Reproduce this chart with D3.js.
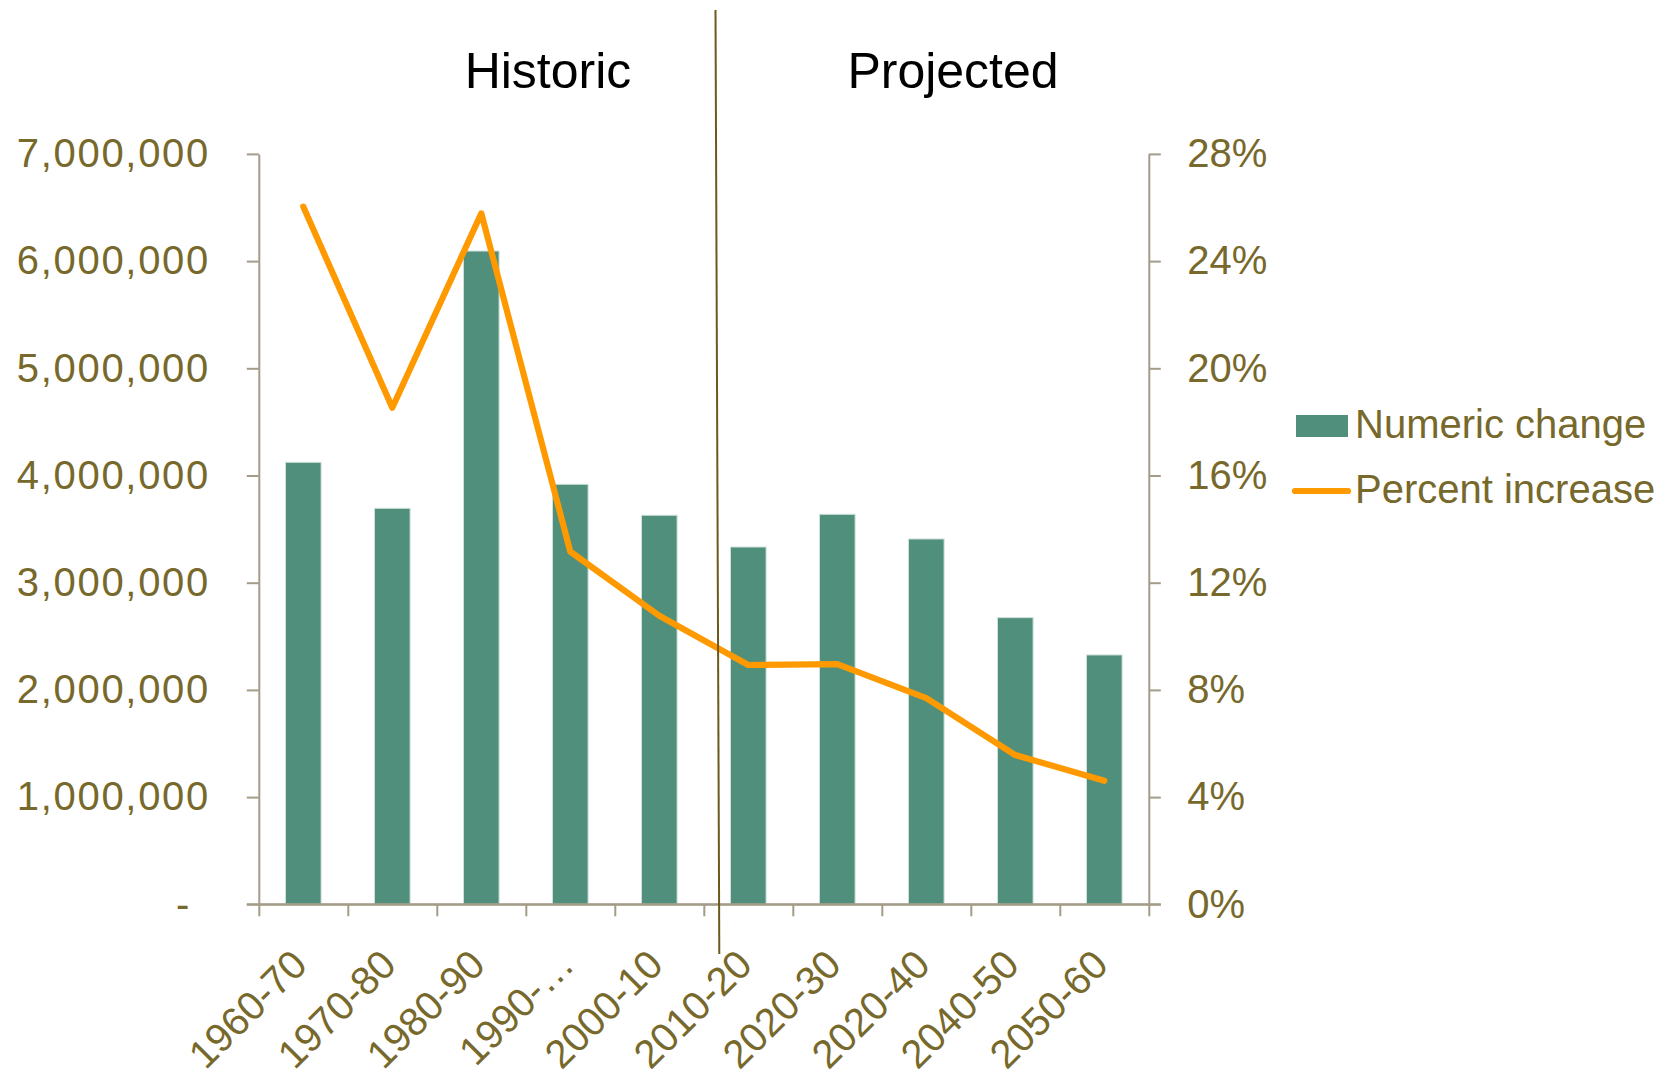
<!DOCTYPE html>
<html>
<head>
<meta charset="utf-8">
<script src="https://cdn.jsdelivr.net/npm/d3@7"></script>
<style>
  html, body { margin: 0; padding: 0; background: #ffffff; }
  svg { display: block; }
</style>
</head>
<body>
<svg id="chart" width="1673" height="1071"></svg>
<script>
// ---------- DATA ----------
const categories = ["1960-70", "1970-80", "1980-90", "1990-…", "2000-10", "2010-20", "2020-30", "2020-40", "2040-50", "2050-60"];
const numericChange = [4123000, 3694000, 6094000, 3918000, 3629000, 3333000, 3638000, 3408000, 2674000, 2326000];
const percentIncrease = [0.2603, 0.1853, 0.2578, 0.1316, 0.1077, 0.0893, 0.0896, 0.0769, 0.0557, 0.0461];
const leftTickValues = [0, 1000000, 2000000, 3000000, 4000000, 5000000, 6000000, 7000000];
const leftTickLabels = ["-", "1,000,000", "2,000,000", "3,000,000", "4,000,000", "5,000,000", "6,000,000", "7,000,000"];
const rightTickValues = [0, 0.04, 0.08, 0.12, 0.16, 0.20, 0.24, 0.28];
const rightTickLabels = ["0%", "4%", "8%", "12%", "16%", "20%", "24%", "28%"];
const periodLabels = ["Historic", "Projected"];
const legendLabels = ["Numeric change", "Percent increase"];

// ---------- LAYOUT ----------
const plotLeft = 258.8, plotRight = 1148.8, plotTop = 153.9, plotBottom = 904.3;
const textColor = "#77682b";
const axisColor = "#a39c89";
const barColor = "#4f8f7c";
const lineColor = "#ff9900";
const fontFamily = "'Liberation Sans', Arial, sans-serif";

const svg = d3.select("#chart");
svg.append("rect").attr("width", 1673).attr("height", 1071).attr("fill", "#ffffff");

const x = d3.scaleBand().domain(categories).range([plotLeft, plotRight])
  .paddingInner(0.6).paddingOuter(0.3);
const xEdges = d3.scaleLinear().domain([0, categories.length]).range([plotLeft, plotRight]);
const yL = d3.scaleLinear().domain([0, 7000000]).range([plotBottom, plotTop]);
const yR = d3.scaleLinear().domain([0, 0.28]).range([plotBottom, plotTop]);

// Bars
svg.append("g").selectAll("rect").data(categories).join("rect")
  .attr("x", d => x(d))
  .attr("y", (d, i) => yL(numericChange[i]))
  .attr("width", x.bandwidth())
  .attr("height", (d, i) => yL(0) - yL(numericChange[i]))
  .attr("fill", barColor)
  .attr("stroke", "#cfe0da")
  .attr("stroke-width", 1);

// Left axis
const gL = svg.append("g").attr("transform", `translate(${plotLeft},0)`)
  .call(d3.axisLeft(yL).tickValues(leftTickValues).tickSize(12).tickSizeOuter(0).tickPadding(38.5)
    .tickFormat((d, i) => leftTickLabels[i]));
// Right axis
const gR = svg.append("g").attr("transform", `translate(${plotRight},0)`)
  .call(d3.axisRight(yR).tickValues(rightTickValues).tickSize(12).tickSizeOuter(0).tickPadding(26.5)
    .tickFormat((d, i) => rightTickLabels[i]));
// Bottom axis (tick marks at category boundaries)
const gB = svg.append("g").attr("transform", `translate(0,${plotBottom})`)
  .call(d3.axisBottom(xEdges).tickValues(d3.range(0, categories.length + 1)).tickSize(12).tickSizeOuter(0)
    .tickFormat(""));

[gL, gR, gB].forEach(g => {
  g.selectAll(".domain").attr("stroke", axisColor).attr("stroke-width", 2);
  g.selectAll(".tick line").attr("stroke", axisColor).attr("stroke-width", 2);
  g.selectAll("text").attr("fill", textColor).attr("font-family", fontFamily).attr("font-size", 40);
});
gL.selectAll("text").attr("letter-spacing", "1.7px")
  .attr("x", function(d) { return d === 0 ? -(12 + 38.5 + 19) + 1.7 : -(12 + 38.5) + 1.7; });
svg.append("line").attr("x1", plotLeft - 12).attr("x2", plotRight + 12)
  .attr("y1", plotBottom).attr("y2", plotBottom)
  .attr("stroke", axisColor).attr("stroke-width", 2);

// Category labels (rotated)
svg.append("g").selectAll("text").data(categories).join("text")
  .attr("transform", d => `translate(${x(d) + x.bandwidth() / 2 + 6},${plotBottom + 62.6}) rotate(-45)`)
  .attr("text-anchor", "end")
  .attr("fill", textColor)
  .attr("font-family", fontFamily)
  .attr("font-size", 40)
  .text(d => d);

// Percent line
const line = d3.line()
  .x((d, i) => x(categories[i]) + x.bandwidth() / 2)
  .y(d => yR(d));
svg.append("path").datum(percentIncrease)
  .attr("d", line)
  .attr("fill", "none")
  .attr("stroke", lineColor)
  .attr("stroke-width", 6.2)
  .attr("stroke-linejoin", "round")
  .attr("stroke-linecap", "round");

// Divider line
svg.append("line")
  .attr("x1", 715.5).attr("y1", 10).attr("x2", 719.3).attr("y2", 954)
  .attr("stroke", "#6b5a1c").attr("stroke-width", 2);

// Period labels
svg.append("text").attr("x", 548).attr("y", 88).attr("text-anchor", "middle")
  .attr("font-family", fontFamily).attr("font-size", 50).attr("fill", "#000000")
  .text(periodLabels[0]);
svg.append("text").attr("x", 953).attr("y", 88).attr("text-anchor", "middle")
  .attr("font-family", fontFamily).attr("font-size", 50).attr("fill", "#000000")
  .text(periodLabels[1]);

// Legend
const lg = svg.append("g");
lg.append("rect").attr("x", 1296).attr("y", 415).attr("width", 52).attr("height", 22).attr("fill", barColor);
lg.append("text").attr("x", 1355).attr("y", 438.3)
  .attr("font-family", fontFamily).attr("font-size", 40).attr("fill", textColor)
  .text(legendLabels[0]);
lg.append("line").attr("x1", 1295).attr("x2", 1348).attr("y1", 491).attr("y2", 491)
  .attr("stroke", lineColor).attr("stroke-width", 6.2).attr("stroke-linecap", "round");
lg.append("text").attr("x", 1355).attr("y", 503.3)
  .attr("font-family", fontFamily).attr("font-size", 40).attr("fill", textColor)
  .text(legendLabels[1]);
</script>
</body>
</html>
